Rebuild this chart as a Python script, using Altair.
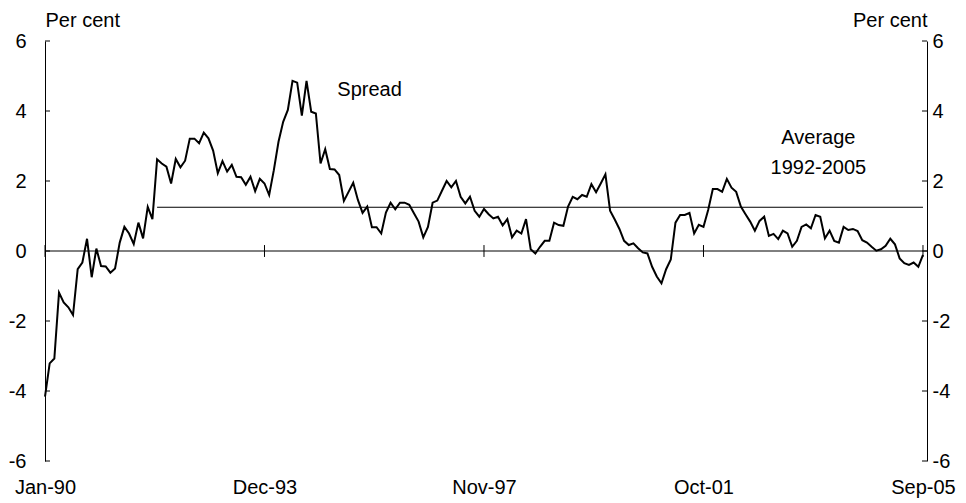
import altair as alt
import pandas as pd

# Monthly spread, Jan-1990 .. Sep-2005 (per cent)
spread = [
    -4.16, -3.21, -3.07, -1.19, -1.47, -1.61, -1.83, -0.52, -0.33, 0.35,
    -0.75, 0.07, -0.43, -0.44, -0.62, -0.50, 0.24, 0.69, 0.50, 0.20,
    0.81, 0.36, 1.26, 0.91, 2.62, 2.50, 2.41, 1.93, 2.63, 2.39,
    2.58, 3.21, 3.21, 3.08, 3.38, 3.22, 2.87, 2.22, 2.57, 2.27,
    2.46, 2.12, 2.11, 1.89, 2.12, 1.71, 2.06, 1.93, 1.60, 2.31,
    3.12, 3.69, 4.03, 4.86, 4.81, 3.87, 4.86, 3.98, 3.93, 2.50,
    2.91, 2.34, 2.33, 2.17, 1.43, 1.69, 1.95, 1.46, 1.09, 1.27,
    0.68, 0.68, 0.50, 1.10, 1.38, 1.19, 1.38, 1.38, 1.32, 1.08,
    0.84, 0.39, 0.69, 1.38, 1.44, 1.72, 2.00, 1.82, 2.00, 1.55,
    1.36, 1.55, 1.15, 0.98, 1.20, 1.05, 0.93, 0.98, 0.73, 0.91,
    0.39, 0.58, 0.50, 0.91, 0.05, -0.07, 0.12, 0.29, 0.29, 0.81,
    0.74, 0.72, 1.27, 1.55, 1.48, 1.60, 1.55, 1.91, 1.68, 1.93,
    2.19, 1.15, 0.90, 0.63, 0.29, 0.17, 0.22, 0.08, -0.04, -0.07,
    -0.45, -0.73, -0.92, -0.52, -0.24, 0.81, 1.03, 1.03, 1.09, 0.50,
    0.75, 0.69, 1.17, 1.77, 1.77, 1.69, 2.06, 1.81, 1.69, 1.27,
    1.05, 0.84, 0.58, 0.86, 0.98, 0.43, 0.49, 0.34, 0.58, 0.50,
    0.12, 0.29, 0.69, 0.76, 0.65, 1.03, 0.98, 0.36, 0.58, 0.29,
    0.24, 0.69, 0.60, 0.63, 0.57, 0.31, 0.24, 0.12, 0.01, 0.05,
    0.15, 0.35, 0.19, -0.21, -0.35, -0.40, -0.33, -0.45, -0.11,
]
months = pd.date_range("1990-01-01", periods=len(spread), freq="MS").strftime("%b-%y").tolist()

x_tick_pos = [0, 47, 94, 141, 188]
x_tick_labels = ["Jan-90", "Dec-93", "Nov-97", "Oct-01", "Sep-05"]
y_ticks = [-6, -4, -2, 0, 2, 4, 6]

average_value = 1.25
average_start = 24   # Jan-92
average_end = 188    # Sep-05

ann_text = ["Spread", "Average", "1992-2005"]
ann_x = [69.5, 165.6, 165.6]
ann_y = [4.6, 3.23, 2.36]

FONT = "Liberation Sans"
FS = 20
W, H = 882, 420

df = pd.DataFrame({"i": list(range(len(spread))), "month": months, "spread": spread})
avg_df = pd.DataFrame({"x0": [average_start], "x1": [average_end], "v": [average_value]})
xt_df = pd.DataFrame({"i": x_tick_pos})
yt_df = pd.DataFrame({"v": y_ticks})
ann_df = pd.DataFrame({"t": ann_text, "x": ann_x, "y": ann_y})

xs = alt.Scale(domain=[0, 188.86], nice=False, zero=False)
ys = alt.Scale(domain=[-6, 6], nice=False, zero=False)

label_expr = "".join(f"datum.value == {p} ? '{l}' : " for p, l in zip(x_tick_pos, x_tick_labels)) + "''"
y_label_expr = "'' + datum.value"

x_axis = alt.Axis(values=x_tick_pos, labelExpr=label_expr, ticks=False, tickSize=0, domain=False,
                  grid=False, labelPadding=16, labelFontSize=FS, labelFont=FONT, labelColor="black",
                  labelFlush=False, labelOverlap=False, labelBound=False, title=None)
left_axis = alt.Axis(orient="left", values=y_ticks, labelExpr=y_label_expr, ticks=False, tickSize=0,
                     grid=False, domainColor="black", domainWidth=1, labelPadding=19, labelFontSize=FS,
                     labelFont=FONT, labelColor="black", labelFlush=False, labelOverlap=False,
                     title="Per cent", titleAngle=0, titleX=0, titleY=-21, titleAlign="left",
                     titleBaseline="middle", titleFont=FONT, titleFontSize=FS,
                     titleFontWeight="normal", titleColor="black")
right_axis = alt.Axis(orient="right", values=y_ticks, labelExpr=y_label_expr, ticks=False, tickSize=0,
                      grid=False, domainColor="black", domainWidth=1, labelPadding=5, labelFontSize=FS,
                      labelFont=FONT, labelColor="black", labelFlush=False, labelOverlap=False,
                      title="Per cent", titleAngle=0, titleX=0, titleY=-21, titleAlign="right",
                      titleBaseline="middle", titleFont=FONT, titleFontSize=FS,
                      titleFontWeight="normal", titleColor="black")

line = alt.Chart(df).mark_line(color="black", strokeWidth=2).encode(
    x=alt.X("i:Q", scale=xs, axis=x_axis),
    y=alt.Y("spread:Q", scale=ys, axis=left_axis),
)

zero = alt.Chart(avg_df).mark_rule(color="black", strokeWidth=1).encode(
    x=alt.value(0), x2=alt.value(W), y=alt.datum(0, scale=ys)
)

avg = alt.Chart(avg_df).mark_rule(color="black", strokeWidth=1).encode(
    x=alt.X("x0:Q", scale=xs), x2="x1:Q", y=alt.Y("v:Q", scale=ys)
)

xticks = alt.Chart(xt_df).mark_rule(color="black", strokeWidth=1).encode(
    x=alt.X("i:Q", scale=xs), y=alt.datum(-0.17), y2=alt.datum(0.17)
)

lticks = alt.Chart(yt_df).mark_rule(color="black", strokeWidth=1).encode(
    x=alt.value(0), x2=alt.value(5), y=alt.Y("v:Q", scale=ys)
)

texts = alt.Chart(ann_df).mark_text(font=FONT, fontSize=FS, color="black", align="center",
                                     baseline="middle").encode(
    x=alt.X("x:Q", scale=xs), y=alt.Y("y:Q", scale=ys), text="t:N"
)

rticks = alt.Chart(yt_df).mark_rule(color="black", strokeWidth=1).encode(
    x=alt.value(W - 5), x2=alt.value(W), y=alt.Y("v:Q", scale=ys, axis=right_axis)
)

left_group = alt.layer(line, zero, avg, xticks, lticks, texts)
chart = alt.layer(left_group, rticks).resolve_scale(y="independent").properties(
    width=W, height=H,
    autosize=alt.AutoSizeParams(type="none"),
    padding={"left": 37, "top": 33, "right": 31, "bottom": 40},
    background="white",
).configure_view(stroke=None)

chart.save("out.html", embed_options={"renderer": "svg", "actions": False})
